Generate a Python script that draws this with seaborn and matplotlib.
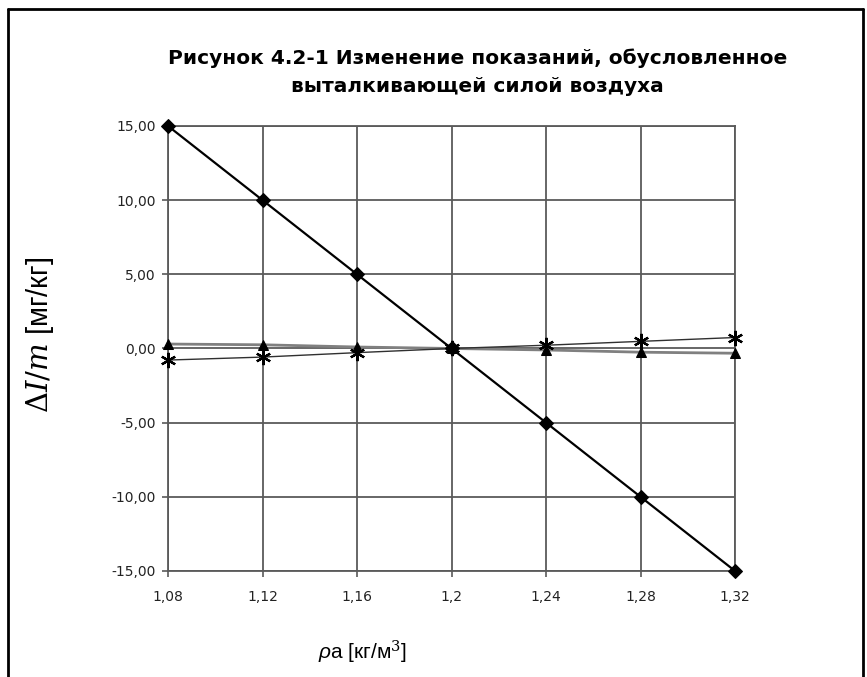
import matplotlib
matplotlib.use("Agg")
import matplotlib.pyplot as plt
import seaborn as sns
import pandas as pd
from matplotlib.lines import Line2D

rho = [1.08, 1.12, 1.16, 1.20, 1.24, 1.28, 1.32]
x_labels = ["1,08", "1,12", "1,16", "1,2", "1,24", "1,28", "1,32"]
series_diamond = [15.0, 10.0, 5.0, 0.0, -5.0, -10.0, -15.0]
series_triangle = [0.30, 0.25, 0.10, 0.0, -0.10, -0.25, -0.32]
series_star = [-0.78, -0.58, -0.28, 0.0, 0.22, 0.48, 0.74]
y_ticks = [-15, -10, -5, 0, 5, 10, 15]
y_labels = ["-15,00", "-10,00", "-5,00", "0,00", "5,00", "10,00", "15,00"]

sns.set_style("white")
plt.rcParams['font.family'] = ['Liberation Sans', 'DejaVu Sans']
plt.rcParams['mathtext.fontset'] = 'custom'
plt.rcParams['mathtext.rm'] = 'DejaVu Serif'
plt.rcParams['mathtext.it'] = 'DejaVu Serif:italic'
plt.rcParams['mathtext.sf'] = 'Liberation Sans:italic'

fig = plt.figure(figsize=(8.67, 6.77), dpi=100)
ax = fig.add_axes([0.1938, 0.1566, 0.654, 0.6573])

df = pd.DataFrame({"rho": rho, "d": series_diamond, "t": series_triangle, "s": series_star})

sns.lineplot(data=df, x="rho", y="t", ax=ax, color="#808080", linewidth=2.0,
             marker="^", markersize=7, markerfacecolor="black", markeredgecolor="black",
             clip_on=False, zorder=3)
sns.lineplot(data=df, x="rho", y="s", ax=ax, color="#303030", linewidth=1.0,
             marker=(6, 2, 0), markersize=11, markeredgewidth=1.6, markeredgecolor="black",
             clip_on=False, zorder=4)
sns.lineplot(data=df, x="rho", y="d", ax=ax, color="black", linewidth=1.6,
             marker="D", markersize=7, markerfacecolor="black", markeredgecolor="black",
             clip_on=False, zorder=5)

tick_font = dict(fontsize=10, color="#222222", family=['DejaVu Sans'])
ax.set_xlim(1.08, 1.32)
ax.set_ylim(-15, 15)
ax.set_xticks(rho)
ax.set_xticklabels(x_labels, **tick_font)
ax.set_yticks(y_ticks)
ax.set_yticklabels(y_labels, **tick_font)
ax.grid(True, color="#5a5a5a", linewidth=1.3)
for s in ax.spines.values():
    s.set_visible(True)
    s.set_color("#5a5a5a")
    s.set_linewidth(1.3)
ax.tick_params(axis="both", which="major", length=4, width=1.2, color="#5a5a5a",
               direction="out", left=True, bottom=True)
ax.tick_params(axis="x", pad=10)
ax.tick_params(axis="y", pad=5)
ax.set_xlabel("")
ax.set_ylabel("")

fig.text(0.551, 0.893, "Рисунок 4.2-1 Изменение показаний, обусловленное\nвыталкивающей силой воздуха",
         ha="center", va="center", fontsize=14.5, fontweight="bold", linespacing=1.6,
         family=['DejaVu Sans'], color="black")

fig.text(0.046, 0.505, r"$\Delta\mathit{I}/\mathit{m}$ [мг/кг]", rotation=90, ha="center", va="center",
         fontsize=21, color="black")
fig.text(0.418, 0.037, r"$\mathsf{\rho}$a [кг/м$^\mathrm{3}$]", ha="center", va="center", fontsize=15,
         color="black")

# frame (left, top, right)
fig.add_artist(Line2D([0.009, 0.009], [0.0, 0.986], transform=fig.transFigure, color="black", linewidth=2))
fig.add_artist(Line2D([0.009, 0.995], [0.986, 0.986], transform=fig.transFigure, color="black", linewidth=2))
fig.add_artist(Line2D([0.995, 0.995], [0.0, 0.986], transform=fig.transFigure, color="black", linewidth=2))

fig.savefig("out.png", dpi=100, facecolor="white")
